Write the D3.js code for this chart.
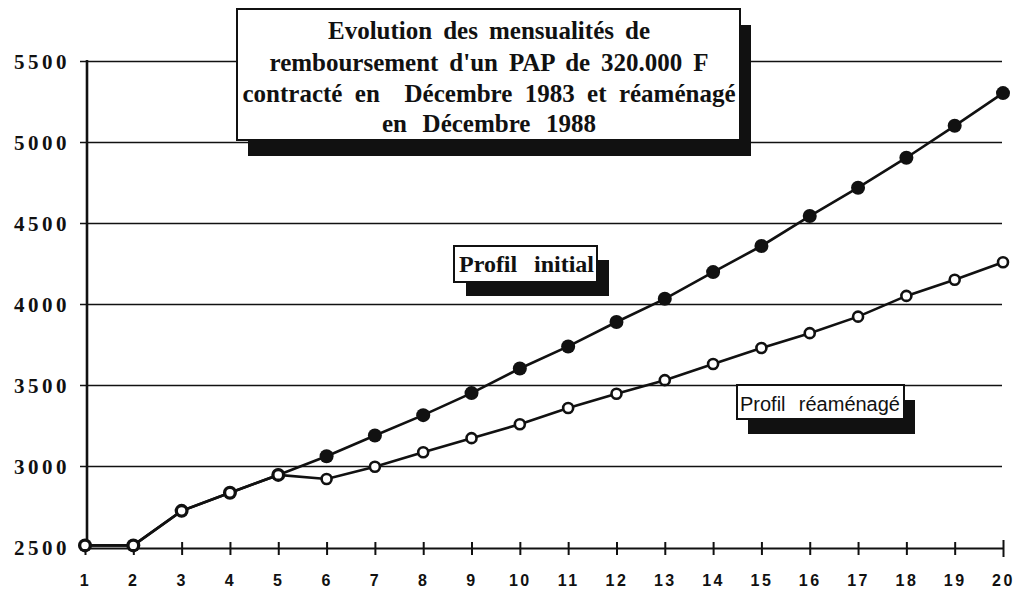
<!DOCTYPE html>
<html lang="fr">
<head>
<meta charset="utf-8">
<script src="https://cdn.jsdelivr.net/npm/d3@7"></script>
<style>
  html, body { margin: 0; padding: 0; background: #fff; }
  svg { display: block; }
  .grid-line { stroke: #111; stroke-width: 1.5; }
  .ylab { font-family: "Liberation Serif", "Times New Roman", serif; font-weight: 700; font-size: 21px; letter-spacing: 3.5px; }
  .xlab { font-family: "Liberation Sans", Arial, sans-serif; font-weight: 700; font-size: 16px; letter-spacing: 2.5px; }
  .title { font-family: "Liberation Serif", "Times New Roman", serif; font-weight: 700; font-size: 25px; }
</style>
</head>
<body>
<svg id="chart" width="1016" height="593"></svg>
<script>
// années 1..20
const years = d3.range(1, 21);
const initialProfile = [2510, 2510, 2723, 2835, 2945, 3060, 3188, 3314, 3450, 3602,
  3738, 3889, 4032, 4197, 4358, 4543, 4718, 4903, 5100, 5302];
const reamenagedProfile = [2510, 2510, 2723, 2835, 2945, 2920, 2995, 3085, 3172, 3258,
  3358, 3446, 3530, 3630, 3728, 3820, 3922, 4050, 4150, 4258];
const yTicks = [2500, 3000, 3500, 4000, 4500, 5000, 5500];
const titleLines = [
  "Evolution des mensualités de",
  "remboursement d'un PAP de 320.000 F",
  "contracté en  Décembre 1983 et réaménagé",
  "en Décembre 1988",
];
const titleWidths = [322, 439, 493, 214];
const labelInitial = "Profil initial";
const labelReamenage = "Profil réaménagé";

const svg = d3.select("#chart");

const x = d3.scaleLinear().domain([1, 20]).range([85, 1003]);
const y = d3.scaleLinear().domain([2500, 5500]).range([547, 61]);

// grille + graduations gauche
const yAxis = svg.append("g").attr("transform", "translate(80,0)")
  .call(d3.axisLeft(y).tickValues(yTicks).tickSizeInner(-922).tickSizeOuter(0).tickPadding(10).tickFormat(d3.format("d")));
yAxis.select(".domain").remove();
yAxis.selectAll(".tick line").attr("class", "grid-line").attr("stroke", null)
  .filter((d) => d === 2500).remove();
yAxis.selectAll(".tick text").attr("class", "ylab").attr("fill", "#111").attr("dy", "0.36em").attr("font-size", null).attr("font-family", null);

// axe vertical
svg.append("line").attr("x1", 87).attr("x2", 87).attr("y1", y(5500) - 1).attr("y2", y(2500) + 1)
  .attr("stroke", "#111").attr("stroke-width", 2.6);

// axe horizontal avec graduations croisées
const xAxis = svg.append("g").attr("transform", `translate(0,${y(2500) + 1})`)
  .call(d3.axisBottom(x).tickValues(years).tickSizeOuter(0).tickFormat(d3.format("d")));
xAxis.select(".domain").attr("stroke", "#111").attr("stroke-width", 2);
xAxis.selectAll(".tick line").attr("stroke", "#111").attr("stroke-width", 2)
  .attr("y1", (d) => (d === 20 ? -8 : -6)).attr("y2", (d) => (d === 20 ? 9 : 7));
xAxis.selectAll(".tick text").attr("class", "xlab").attr("fill", "#111").attr("y", 38).attr("dy", 0)
  .attr("font-size", null).attr("font-family", null);

// courbes
const line = d3.line().x((d, i) => x(years[i])).y((d) => y(d));

svg.append("path").datum(initialProfile).attr("d", line)
  .attr("fill", "none").attr("stroke", "#111").attr("stroke-width", 2.6);
svg.append("path").datum(reamenagedProfile).attr("d", line)
  .attr("fill", "none").attr("stroke", "#111").attr("stroke-width", 2.6);

svg.append("g").selectAll("circle").data(initialProfile).join("circle")
  .attr("cx", (d, i) => x(years[i])).attr("cy", (d) => y(d)).attr("r", 7).attr("fill", "#111");
svg.append("g").selectAll("circle").data(reamenagedProfile).join("circle")
  .attr("cx", (d, i) => x(years[i])).attr("cy", (d) => y(d)).attr("r", 5)
  .attr("fill", "#fff").attr("stroke", "#111").attr("stroke-width", 2.6);

function shadowBox(bx, by, bw, bh, dx, dy) {
  svg.append("rect").attr("x", bx + dx).attr("y", by + dy).attr("width", bw).attr("height", bh).attr("fill", "#111");
  svg.append("rect").attr("x", bx).attr("y", by).attr("width", bw).attr("height", bh)
    .attr("fill", "#fff").attr("stroke", "#111").attr("stroke-width", 2);
}

function spreadText(t, target) {
  const node = t.node();
  const spaces = (t.text().match(/ /g) || []).length;
  const natural = node.getComputedTextLength();
  if (spaces > 0) t.style("word-spacing", `${(target - natural) / spaces}px`);
}

// titre
shadowBox(237, 9, 503, 131, 11, 16);
const titleBaselines = [39, 71, 102, 132];
titleLines.forEach((txt, i) => {
  const t = svg.append("text").attr("class", "title").attr("x", 489).attr("y", titleBaselines[i])
    .attr("text-anchor", "middle").attr("fill", "#111").style("white-space", "pre").text(txt);
  spreadText(t, titleWidths[i]);
});

// étiquettes
shadowBox(454, 246, 143, 36, 12, 14);
const ti = svg.append("text").attr("x", 459).attr("y", 272).attr("fill", "#111")
  .style("font-family", "'Liberation Serif', serif").style("font-weight", 700).style("font-size", "24px")
  .text(labelInitial);
spreadText(ti, 135);

shadowBox(737, 385, 167, 34, 11, 15);
const tr = svg.append("text").attr("x", 740).attr("y", 411).attr("fill", "#111")
  .style("font-family", "'Liberation Sans', Arial, sans-serif").style("font-size", "20px")
  .text(labelReamenage);
spreadText(tr, 160);
</script>
</body>
</html>
